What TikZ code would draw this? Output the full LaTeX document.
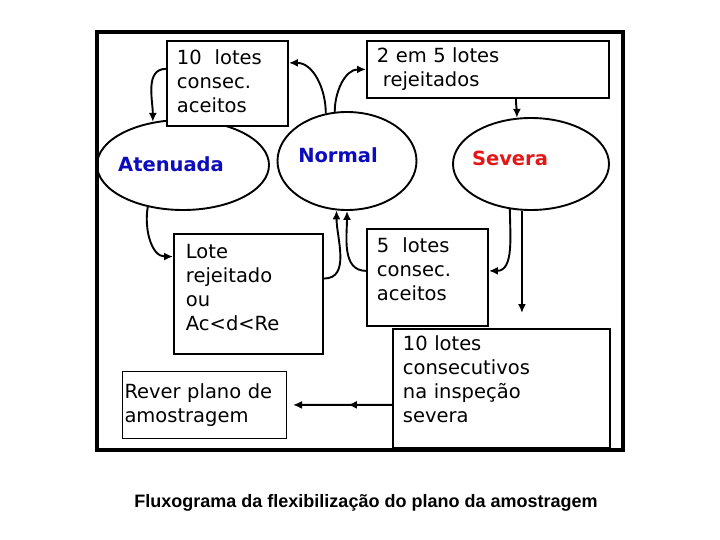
\documentclass[tikz,border=0pt]{standalone}
\usepackage{fontspec}
\setmainfont{DejaVu Sans}
\newfontfamily\captionfont{Liberation Sans}
\usetikzlibrary{arrows.meta,shapes.geometric,decorations.markings}
\definecolor{phaseblue}{RGB}{12,12,190}
\definecolor{phasered}{RGB}{228,22,22}
\def\pad#1{\rule[-#1]{0pt}{0pt}}

\tikzset{
	box/.style={draw, fill=white, line width=1.9pt, anchor=north west, align=left, inner xsep=10pt, inner ysep=9pt, font=\fontsize{19.5}{24}\selectfont},
	phase/.style={draw, ellipse, line width=1.9pt, inner sep=0pt},
	phaselabel/.style={font=\fontsize{19.5}{24}\selectfont\bfseries},
	flow/.style={line width=1.9pt, -{Latex[length=9pt,width=8pt]}}
}

\begin{document}
\begin{tikzpicture}[x=1pt, y=1pt]
			%%%%% START %%%%%
			\useasboundingbox (0,0) rectangle (720,-540);
			
			\draw[line width=3.5pt] (97,-32) rectangle (623,-450);
			
			\node[phase, minimum width=172pt, minimum height=90pt, label={[phaselabel, text=phaseblue, xshift=-12pt, yshift=1pt]center:Atenuada}] (aten) at (183,-165) {};
			\node[phase, minimum width=139pt, minimum height=98pt, label={[phaselabel, text=phaseblue, xshift=-9pt, yshift=6pt]center:Normal}] (norm) at (347,-161) {};
			\node[phase, minimum width=156pt, minimum height=92pt, label={[phaselabel, text=phasered, xshift=-21pt, yshift=6pt]center:Severa}] (sev) at (531,-164) {};
			
			\node[box, text width=101pt] (tenok) at (166,-40) {10~ lotes\\consec.\\aceitos\pad{4pt}};
			\node[box, text width=222pt, inner ysep=7pt] (twofive) at (366,-40) {2 em 5 lotes\\\hspace*{6pt}rejeitados};
			
			\node[box, text width=125pt, inner xsep=12pt, inner ysep=10pt] (rej) at (173,-233) {Lote\\rejeitado\\ou\\Ac<d<Re\pad{14pt}};
			\node[box, text width=101pt] (fiveok) at (366,-228) {5~ lotes\\consec.\\aceitos\pad{16pt}};
			\node[box, text width=197pt, inner ysep=7pt] (tensev) at (392,-328) {10 lotes\\consecutivos\\na inspeção\\severa\pad{18pt}};
			\node[box, line width=1pt, text width=160pt, inner xsep=2pt, inner ysep=12pt] (rever) at (122,-371) {Rever plano de\\amostragem};
			
			\draw[flow] ([yshift=14.5pt]tenok.west) to[out=180, in=90] (aten.125);
			\draw[flow] (norm.114) to[out=90, in=0] ([yshift=20.5pt]tenok.east);
			\draw[flow] (norm.104) to[out=90, in=180] (twofive.west);
			\draw[flow] ([xshift=28pt]twofive.south) to[out=-90, in=90] (sev.107);
			
			\draw[flow] (aten.230) to[out=-100, in=180] ([yshift=37.5pt]rej.west);
			\draw[flow] ([yshift=15.5pt]rej.east) to[out=0, in=-90] (norm.258);
			\draw[flow] ([yshift=6.5pt]fiveok.west) to[out=180, in=-90] (norm.270);
			\draw[flow] (sev.245) to[out=-90, in=0] ([yshift=6.5pt]fiveok.east);
			
			\coordinate (sevend) at (522,-313);
			\draw[flow] (sev.259) -- (sev.259 |- sevend);
			
			\draw[flow, shorten >=6pt, postaction={decorate}, decoration={markings, mark=at position 0.42 with {\arrow{Latex[length=9pt,width=8pt]}}}] ([yshift=-16.5pt]tensev.west) -- (rever.east);
			
			\node[font=\captionfont\bfseries\fontsize{18}{22}\selectfont, anchor=base] (caption) at (366,-507) {Fluxograma da flexibilização do plano da amostragem};
			
			%%%%% END %%%%%
\end{tikzpicture}
\end{document}
